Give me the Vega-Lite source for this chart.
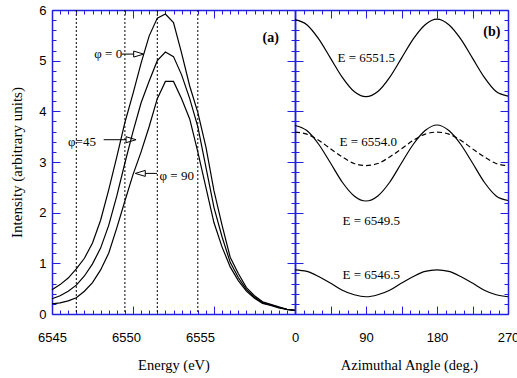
{
  "$schema": "https://vega.github.io/schema/vega-lite/v6.json",
  "background": "white",
  "padding": {"left": 9, "top": 4, "right": 2, "bottom": 2},
  "spacing": 0,
  "bounds": "flush",
  "config": {
    "view": {"stroke": null, "fill": null},
    "axis": {
      "grid": false, "labelFont": "Liberation Sans", "labelFontSize": 13, "labelColor": "#000",
      "titleFont": "Liberation Serif", "titleFontSize": 15, "titleFontWeight": "normal", "titleColor": "#000",
      "labelFlush": false, "labelOverlap": false, "zindex": 1,
      "domainColor": "#2020e0", "domainWidth": 1.5, "tickColor": "#2020e0", "tickWidth": 1
    }
  },
  "datasets": {
    "spectra": [
      {"energy": 6545, "phi": "0", "intensity": 0.48},
      {"energy": 6545.5, "phi": "0", "intensity": 0.58},
      {"energy": 6546, "phi": "0", "intensity": 0.71},
      {"energy": 6546.5, "phi": "0", "intensity": 0.89},
      {"energy": 6547, "phi": "0", "intensity": 1.1},
      {"energy": 6547.5, "phi": "0", "intensity": 1.4},
      {"energy": 6548, "phi": "0", "intensity": 1.85},
      {"energy": 6548.5, "phi": "0", "intensity": 2.45},
      {"energy": 6549, "phi": "0", "intensity": 3.1},
      {"energy": 6549.5, "phi": "0", "intensity": 3.78},
      {"energy": 6550, "phi": "0", "intensity": 4.35},
      {"energy": 6550.5, "phi": "0", "intensity": 4.95},
      {"energy": 6551, "phi": "0", "intensity": 5.49},
      {"energy": 6551.5, "phi": "0", "intensity": 5.84},
      {"energy": 6552, "phi": "0", "intensity": 5.92},
      {"energy": 6552.5, "phi": "0", "intensity": 5.75},
      {"energy": 6553, "phi": "0", "intensity": 5.15},
      {"energy": 6553.5, "phi": "0", "intensity": 4.5},
      {"energy": 6554, "phi": "0", "intensity": 3.98},
      {"energy": 6554.5, "phi": "0", "intensity": 3.3},
      {"energy": 6555, "phi": "0", "intensity": 2.43},
      {"energy": 6555.5, "phi": "0", "intensity": 1.75},
      {"energy": 6556, "phi": "0", "intensity": 1.12},
      {"energy": 6556.5, "phi": "0", "intensity": 0.8},
      {"energy": 6557, "phi": "0", "intensity": 0.52},
      {"energy": 6557.5, "phi": "0", "intensity": 0.36},
      {"energy": 6558, "phi": "0", "intensity": 0.24},
      {"energy": 6558.5, "phi": "0", "intensity": 0.19},
      {"energy": 6559, "phi": "0", "intensity": 0.14},
      {"energy": 6559.5, "phi": "0", "intensity": 0.09},
      {"energy": 6560, "phi": "0", "intensity": 0.07},
      {"energy": 6545, "phi": "45", "intensity": 0.3},
      {"energy": 6545.5, "phi": "45", "intensity": 0.36},
      {"energy": 6546, "phi": "45", "intensity": 0.45},
      {"energy": 6546.5, "phi": "45", "intensity": 0.57},
      {"energy": 6547, "phi": "45", "intensity": 0.75},
      {"energy": 6547.5, "phi": "45", "intensity": 0.99},
      {"energy": 6548, "phi": "45", "intensity": 1.3},
      {"energy": 6548.5, "phi": "45", "intensity": 1.75},
      {"energy": 6549, "phi": "45", "intensity": 2.33},
      {"energy": 6549.5, "phi": "45", "intensity": 2.98},
      {"energy": 6550, "phi": "45", "intensity": 3.6},
      {"energy": 6550.5, "phi": "45", "intensity": 4.17},
      {"energy": 6551, "phi": "45", "intensity": 4.6},
      {"energy": 6551.5, "phi": "45", "intensity": 5.0},
      {"energy": 6552, "phi": "45", "intensity": 5.17},
      {"energy": 6552.5, "phi": "45", "intensity": 5.08},
      {"energy": 6553, "phi": "45", "intensity": 4.72},
      {"energy": 6553.5, "phi": "45", "intensity": 4.25},
      {"energy": 6554, "phi": "45", "intensity": 3.7},
      {"energy": 6554.5, "phi": "45", "intensity": 2.9},
      {"energy": 6555, "phi": "45", "intensity": 2.1},
      {"energy": 6555.5, "phi": "45", "intensity": 1.52},
      {"energy": 6556, "phi": "45", "intensity": 1.02},
      {"energy": 6556.5, "phi": "45", "intensity": 0.72},
      {"energy": 6557, "phi": "45", "intensity": 0.48},
      {"energy": 6557.5, "phi": "45", "intensity": 0.33},
      {"energy": 6558, "phi": "45", "intensity": 0.22},
      {"energy": 6558.5, "phi": "45", "intensity": 0.18},
      {"energy": 6559, "phi": "45", "intensity": 0.13},
      {"energy": 6559.5, "phi": "45", "intensity": 0.09},
      {"energy": 6560, "phi": "45", "intensity": 0.07},
      {"energy": 6545, "phi": "90", "intensity": 0.2},
      {"energy": 6545.5, "phi": "90", "intensity": 0.22},
      {"energy": 6546, "phi": "90", "intensity": 0.26},
      {"energy": 6546.5, "phi": "90", "intensity": 0.32},
      {"energy": 6547, "phi": "90", "intensity": 0.45},
      {"energy": 6547.5, "phi": "90", "intensity": 0.62},
      {"energy": 6548, "phi": "90", "intensity": 0.87},
      {"energy": 6548.5, "phi": "90", "intensity": 1.2},
      {"energy": 6549, "phi": "90", "intensity": 1.7},
      {"energy": 6549.5, "phi": "90", "intensity": 2.23},
      {"energy": 6550, "phi": "90", "intensity": 2.75},
      {"energy": 6550.5, "phi": "90", "intensity": 3.2},
      {"energy": 6551, "phi": "90", "intensity": 3.7},
      {"energy": 6551.5, "phi": "90", "intensity": 4.25},
      {"energy": 6552, "phi": "90", "intensity": 4.59},
      {"energy": 6552.5, "phi": "90", "intensity": 4.59},
      {"energy": 6553, "phi": "90", "intensity": 4.25},
      {"energy": 6553.5, "phi": "90", "intensity": 3.85},
      {"energy": 6554, "phi": "90", "intensity": 3.2},
      {"energy": 6554.5, "phi": "90", "intensity": 2.5},
      {"energy": 6555, "phi": "90", "intensity": 1.8},
      {"energy": 6555.5, "phi": "90", "intensity": 1.32},
      {"energy": 6556, "phi": "90", "intensity": 0.93},
      {"energy": 6556.5, "phi": "90", "intensity": 0.66},
      {"energy": 6557, "phi": "90", "intensity": 0.45},
      {"energy": 6557.5, "phi": "90", "intensity": 0.31},
      {"energy": 6558, "phi": "90", "intensity": 0.21},
      {"energy": 6558.5, "phi": "90", "intensity": 0.17},
      {"energy": 6559, "phi": "90", "intensity": 0.12},
      {"energy": 6559.5, "phi": "90", "intensity": 0.09},
      {"energy": 6560, "phi": "90", "intensity": 0.07}
    ],
    "markers": [
      {"energy": 6546.5}, {"energy": 6549.5}, {"energy": 6551.5}, {"energy": 6554.0}
    ],
    "leftLabels": [
      {"label": "φ = 0", "energy": 6548.47, "intensity": 5.13},
      {"label": "φ=45", "energy": 6546.85, "intensity": 3.4},
      {"label": "φ = 90", "energy": 6552.7, "intensity": 2.73},
      {"label": "(a)", "energy": 6558.5, "intensity": 5.44}
    ],
    "arrows": [
      {"phi": "0", "from": 6549.32, "to": 6550.04, "head": 6550.35, "intensity": 5.13, "dir": "right"},
      {"phi": "45", "from": 6548.19, "to": 6549.57, "head": 6549.88, "intensity": 3.44, "dir": "right"},
      {"phi": "90", "from": 6551.48, "to": 6550.76, "head": 6550.45, "intensity": 2.775, "dir": "left"}
    ],
    "azimuthal": [
      {"energy": "6551.5", "angle": 0, "intensity": 5.81},
      {"energy": "6551.5", "angle": 15, "intensity": 5.71},
      {"energy": "6551.5", "angle": 30, "intensity": 5.43},
      {"energy": "6551.5", "angle": 45, "intensity": 5.05},
      {"energy": "6551.5", "angle": 60, "intensity": 4.67},
      {"energy": "6551.5", "angle": 75, "intensity": 4.39},
      {"energy": "6551.5", "angle": 90, "intensity": 4.29},
      {"energy": "6551.5", "angle": 105, "intensity": 4.39},
      {"energy": "6551.5", "angle": 120, "intensity": 4.67},
      {"energy": "6551.5", "angle": 135, "intensity": 5.05},
      {"energy": "6551.5", "angle": 150, "intensity": 5.43},
      {"energy": "6551.5", "angle": 165, "intensity": 5.71},
      {"energy": "6551.5", "angle": 180, "intensity": 5.82},
      {"energy": "6551.5", "angle": 195, "intensity": 5.71},
      {"energy": "6551.5", "angle": 210, "intensity": 5.43},
      {"energy": "6551.5", "angle": 225, "intensity": 5.05},
      {"energy": "6551.5", "angle": 240, "intensity": 4.67},
      {"energy": "6551.5", "angle": 255, "intensity": 4.39},
      {"energy": "6551.5", "angle": 270, "intensity": 4.3},
      {"energy": "6554.0", "angle": 0, "intensity": 3.59},
      {"energy": "6554.0", "angle": 15, "intensity": 3.55},
      {"energy": "6554.0", "angle": 30, "intensity": 3.43},
      {"energy": "6554.0", "angle": 45, "intensity": 3.26},
      {"energy": "6554.0", "angle": 60, "intensity": 3.1},
      {"energy": "6554.0", "angle": 75, "intensity": 2.97},
      {"energy": "6554.0", "angle": 90, "intensity": 2.93},
      {"energy": "6554.0", "angle": 105, "intensity": 2.97},
      {"energy": "6554.0", "angle": 120, "intensity": 3.1},
      {"energy": "6554.0", "angle": 135, "intensity": 3.26},
      {"energy": "6554.0", "angle": 150, "intensity": 3.43},
      {"energy": "6554.0", "angle": 165, "intensity": 3.55},
      {"energy": "6554.0", "angle": 180, "intensity": 3.59},
      {"energy": "6554.0", "angle": 195, "intensity": 3.55},
      {"energy": "6554.0", "angle": 210, "intensity": 3.43},
      {"energy": "6554.0", "angle": 225, "intensity": 3.26},
      {"energy": "6554.0", "angle": 240, "intensity": 3.1},
      {"energy": "6554.0", "angle": 255, "intensity": 2.97},
      {"energy": "6554.0", "angle": 270, "intensity": 2.93},
      {"energy": "6549.5", "angle": 0, "intensity": 3.72},
      {"energy": "6549.5", "angle": 15, "intensity": 3.62},
      {"energy": "6549.5", "angle": 30, "intensity": 3.35},
      {"energy": "6549.5", "angle": 45, "intensity": 2.98},
      {"energy": "6549.5", "angle": 60, "intensity": 2.6},
      {"energy": "6549.5", "angle": 75, "intensity": 2.33},
      {"energy": "6549.5", "angle": 90, "intensity": 2.23},
      {"energy": "6549.5", "angle": 105, "intensity": 2.33},
      {"energy": "6549.5", "angle": 120, "intensity": 2.6},
      {"energy": "6549.5", "angle": 135, "intensity": 2.98},
      {"energy": "6549.5", "angle": 150, "intensity": 3.35},
      {"energy": "6549.5", "angle": 165, "intensity": 3.62},
      {"energy": "6549.5", "angle": 180, "intensity": 3.73},
      {"energy": "6549.5", "angle": 195, "intensity": 3.62},
      {"energy": "6549.5", "angle": 210, "intensity": 3.35},
      {"energy": "6549.5", "angle": 225, "intensity": 2.98},
      {"energy": "6549.5", "angle": 240, "intensity": 2.6},
      {"energy": "6549.5", "angle": 255, "intensity": 2.33},
      {"energy": "6549.5", "angle": 270, "intensity": 2.24},
      {"energy": "6546.5", "angle": 0, "intensity": 0.87},
      {"energy": "6546.5", "angle": 15, "intensity": 0.84},
      {"energy": "6546.5", "angle": 30, "intensity": 0.74},
      {"energy": "6546.5", "angle": 45, "intensity": 0.61},
      {"energy": "6546.5", "angle": 60, "intensity": 0.47},
      {"energy": "6546.5", "angle": 75, "intensity": 0.38},
      {"energy": "6546.5", "angle": 90, "intensity": 0.34},
      {"energy": "6546.5", "angle": 105, "intensity": 0.38},
      {"energy": "6546.5", "angle": 120, "intensity": 0.47},
      {"energy": "6546.5", "angle": 135, "intensity": 0.61},
      {"energy": "6546.5", "angle": 150, "intensity": 0.74},
      {"energy": "6546.5", "angle": 165, "intensity": 0.84},
      {"energy": "6546.5", "angle": 180, "intensity": 0.87},
      {"energy": "6546.5", "angle": 195, "intensity": 0.84},
      {"energy": "6546.5", "angle": 210, "intensity": 0.74},
      {"energy": "6546.5", "angle": 225, "intensity": 0.61},
      {"energy": "6546.5", "angle": 240, "intensity": 0.47},
      {"energy": "6546.5", "angle": 255, "intensity": 0.38},
      {"energy": "6546.5", "angle": 270, "intensity": 0.34}
    ],
    "rightLabels": [
      {"label": "E = 6551.5", "angle": 90.4, "intensity": 5.05},
      {"label": "E = 6554.0", "angle": 93, "intensity": 3.39},
      {"label": "E = 6549.5", "angle": 96.7, "intensity": 1.83},
      {"label": "E = 6546.5", "angle": 96.7, "intensity": 0.77},
      {"label": "(b)", "angle": 249.6, "intensity": 5.56}
    ]
  },
  "hconcat": [
    {
      "width": 243,
      "height": 304,
      "layer": [
        {
          "data": {"name": "spectra"},
          "mark": {"type": "line", "color": "#000", "strokeWidth": 1.2},
          "encoding": {
            "x": {
              "field": "energy", "type": "quantitative",
              "scale": {"domain": [6545, 6560], "nice": false, "zero": false},
              "axis": {
                "orient": "bottom", "title": "Energy (eV)", "titleFontSize": 14.5, "titleFontWeight": "normal", "titlePadding": 14,
                "tickSize": -8,
                "values": [6545, 6550, 6555, 6560],
                "labelPadding": 25,
                "labelExpr": "datum.value == 6545 ? '6545' : ''"
              }
            },
            "y": {
              "field": "intensity", "type": "quantitative",
              "scale": {"domain": [0, 6], "nice": false, "zero": false},
              "axis": {
                "orient": "left", "title": "Intensity (arbitrary units)", "titleFontWeight": "normal", "titlePadding": 14,
                "tickSize": -8,
                "values": [0, 1, 2, 3, 4, 5, 6],
                "labelPadding": 14,
                "format": "d"
              }
            },
            "detail": {"field": "phi"}
          }
        },
        {
          "data": {"name": "leftLabels"},
          "transform": [{"filter": "datum.label != '(a)'"}],
          "mark": {"type": "text", "align": "center", "baseline": "middle", "font": "Liberation Serif", "fontSize": 13, "color": "#000"},
          "encoding": {
            "x": {
              "field": "energy", "type": "quantitative",
              "scale": {"domain": [6545, 6560], "nice": false, "zero": false},
              "axis": {
                "orient": "bottom", "title": null, "labels": false, "domain": false, "tickSize": -4,
                "values": [6545, 6545.5, 6546, 6546.5, 6547, 6547.5, 6548, 6548.5, 6549, 6549.5, 6550, 6550.5, 6551, 6551.5, 6552, 6552.5, 6553, 6553.5, 6554, 6554.5, 6555, 6555.5, 6556, 6556.5, 6557, 6557.5, 6558, 6558.5, 6559, 6559.5, 6560]
              }
            },
            "y": {
              "field": "intensity", "type": "quantitative",
              "scale": {"domain": [0, 6], "nice": false, "zero": false},
              "axis": {
                "orient": "left", "title": null, "labels": false, "domain": false, "tickSize": -4,
                "values": [0, 0.2, 0.4, 0.6, 0.8, 1, 1.2, 1.4, 1.6, 1.8, 2, 2.2, 2.4, 2.6, 2.8, 3, 3.2, 3.4, 3.6, 3.8, 4, 4.2, 4.4, 4.6, 4.8, 5, 5.2, 5.4, 5.6, 5.8, 6]
              }
            },
            "text": {"field": "label"}
          }
        },
        {
          "data": {"name": "arrows"},
          "mark": {"type": "point", "filled": false, "stroke": "#000", "strokeWidth": 1, "size": 100, "opacity": 1},
          "encoding": {
            "x": {
              "field": "head", "type": "quantitative",
              "scale": {"domain": [6545, 6560], "nice": false, "zero": false},
              "axis": {
                "orient": "top", "title": null, "labels": false, "tickSize": -8,
                "values": [6545, 6550, 6555, 6560]
              }
            },
            "y": {
              "field": "intensity", "type": "quantitative",
              "scale": {"domain": [0, 6], "nice": false, "zero": false},
              "axis": {
                "orient": "right", "title": null, "labels": false, "tickSize": -8,
                "values": [0, 1, 2, 3, 4, 5, 6]
              }
            },
            "shape": {"condition": {"test": "datum.dir == 'left'", "value": "M1,-0.6L-1,0L1,0.6Z"}, "value": "M-1,-0.6L1,0L-1,0.6Z"}
          }
        },
        {
          "data": {"name": "arrows"},
          "mark": {"type": "rule", "color": "#000", "strokeWidth": 1},
          "encoding": {
            "x": {
              "field": "from", "type": "quantitative",
              "scale": {"domain": [6545, 6560], "nice": false, "zero": false},
              "axis": {
                "orient": "top", "title": null, "labels": false, "domain": false, "tickSize": -4,
                "values": [6545, 6545.5, 6546, 6546.5, 6547, 6547.5, 6548, 6548.5, 6549, 6549.5, 6550, 6550.5, 6551, 6551.5, 6552, 6552.5, 6553, 6553.5, 6554, 6554.5, 6555, 6555.5, 6556, 6556.5, 6557, 6557.5, 6558, 6558.5, 6559, 6559.5, 6560]
              }
            },
            "x2": {"field": "to"},
            "y": {
              "field": "intensity", "type": "quantitative",
              "scale": {"domain": [0, 6], "nice": false, "zero": false},
              "axis": {
                "orient": "right", "title": null, "labels": false, "domain": false, "tickSize": -4,
                "values": [0, 0.2, 0.4, 0.6, 0.8, 1, 1.2, 1.4, 1.6, 1.8, 2, 2.2, 2.4, 2.6, 2.8, 3, 3.2, 3.4, 3.6, 3.8, 4, 4.2, 4.4, 4.6, 4.8, 5, 5.2, 5.4, 5.6, 5.8, 6]
              }
            }
          }
        },
        {
          "data": {"name": "markers"},
          "mark": {"type": "rule", "color": "#000", "strokeWidth": 1, "strokeDash": [2, 2]},
          "encoding": {
            "x": {
              "field": "energy", "type": "quantitative",
              "scale": {"domain": [6545, 6560], "nice": false, "zero": false},
              "axis": {
                "orient": "bottom", "title": null, "domain": false, "ticks": false,
                "values": [6550], "format": "d", "labelPadding": 17, "labelOffset": -7
              }
            }
          }
        },
        {
          "data": {"name": "leftLabels"},
          "transform": [{"filter": "datum.label == '(a)'"}],
          "mark": {"type": "text", "align": "center", "baseline": "middle", "font": "Liberation Serif", "fontSize": 14, "fontWeight": "bold", "color": "#000"},
          "encoding": {
            "x": {
              "field": "energy", "type": "quantitative",
              "scale": {"domain": [6545, 6560], "nice": false, "zero": false},
              "axis": {
                "orient": "bottom", "title": null, "domain": false, "ticks": false,
                "values": [6555], "format": "d", "labelPadding": 17, "labelOffset": -14
              }
            },
            "y": {"field": "intensity", "type": "quantitative", "scale": {"domain": [0, 6], "nice": false, "zero": false}, "axis": null},
            "text": {"field": "label"}
          }
        }
      ],
      "resolve": {"scale": {"x": "independent", "y": "independent"}}
    },
    {
      "width": 213,
      "height": 304,
      "layer": [
        {
          "data": {"name": "azimuthal"},
          "transform": [{"filter": "datum.energy != '6554.0'"}],
          "mark": {"type": "line", "interpolate": "monotone", "color": "#000", "strokeWidth": 1.2},
          "encoding": {
            "x": {
              "field": "angle", "type": "quantitative",
              "scale": {"domain": [0, 270], "nice": false, "zero": false},
              "axis": {
                "orient": "bottom", "title": "Azimuthal Angle (deg.)", "titleFontSize": 14.5, "titleFontWeight": "normal", "titlePadding": 14, "titleX": 114,
                "tickSize": -8,
                "values": [0, 45, 90, 135, 180, 225, 270],
                "labelPadding": 25,
                "labelExpr": "datum.value % 90 == 0 ? '' + datum.value : ''"
              }
            },
            "y": {
              "field": "intensity", "type": "quantitative",
              "scale": {"domain": [0, 6], "nice": false, "zero": false},
              "axis": {
                "orient": "left", "title": null, "labels": false, "tickSize": -8,
                "values": [0, 1, 2, 3, 4, 5, 6]
              }
            },
            "detail": {"field": "energy"}
          }
        },
        {
          "data": {"name": "azimuthal"},
          "transform": [{"filter": "datum.energy == '6554.0'"}],
          "mark": {"type": "line", "interpolate": "monotone", "color": "#000", "strokeWidth": 1.2, "strokeDash": [5, 3]},
          "encoding": {
            "x": {
              "field": "angle", "type": "quantitative",
              "scale": {"domain": [0, 270], "nice": false, "zero": false},
              "axis": {
                "orient": "bottom", "title": null, "labels": false, "domain": false, "tickSize": -4,
                "values": [0, 11.25, 22.5, 33.75, 45, 56.25, 67.5, 78.75, 90, 101.25, 112.5, 123.75, 135, 146.25, 157.5, 168.75, 180, 191.25, 202.5, 213.75, 225, 236.25, 247.5, 258.75, 270]
              }
            },
            "y": {
              "field": "intensity", "type": "quantitative",
              "scale": {"domain": [0, 6], "nice": false, "zero": false},
              "axis": {
                "orient": "left", "title": null, "labels": false, "domain": false, "tickSize": -4,
                "values": [0, 0.2, 0.4, 0.6, 0.8, 1, 1.2, 1.4, 1.6, 1.8, 2, 2.2, 2.4, 2.6, 2.8, 3, 3.2, 3.4, 3.6, 3.8, 4, 4.2, 4.4, 4.6, 4.8, 5, 5.2, 5.4, 5.6, 5.8, 6]
              }
            }
          }
        },
        {
          "data": {"name": "rightLabels"},
          "transform": [{"filter": "datum.label != '(b)'"}],
          "mark": {"type": "text", "align": "center", "baseline": "middle", "font": "Liberation Serif", "fontSize": 13, "color": "#000"},
          "encoding": {
            "x": {
              "field": "angle", "type": "quantitative",
              "scale": {"domain": [0, 270], "nice": false, "zero": false},
              "axis": {
                "orient": "top", "title": null, "labels": false, "tickSize": -8,
                "values": [0, 45, 90, 135, 180, 225, 270]
              }
            },
            "y": {
              "field": "intensity", "type": "quantitative",
              "scale": {"domain": [0, 6], "nice": false, "zero": false},
              "axis": {
                "orient": "right", "title": null, "labels": false, "tickSize": -8,
                "values": [0, 1, 2, 3, 4, 5, 6]
              }
            },
            "text": {"field": "label"}
          }
        },
        {
          "data": {"name": "rightLabels"},
          "transform": [{"filter": "datum.label == '(b)'"}],
          "mark": {"type": "text", "align": "center", "baseline": "middle", "font": "Liberation Serif", "fontSize": 14, "fontWeight": "bold", "color": "#000"},
          "encoding": {
            "x": {
              "field": "angle", "type": "quantitative",
              "scale": {"domain": [0, 270], "nice": false, "zero": false},
              "axis": {
                "orient": "top", "title": null, "labels": false, "domain": false, "tickSize": -4,
                "values": [0, 11.25, 22.5, 33.75, 45, 56.25, 67.5, 78.75, 90, 101.25, 112.5, 123.75, 135, 146.25, 157.5, 168.75, 180, 191.25, 202.5, 213.75, 225, 236.25, 247.5, 258.75, 270]
              }
            },
            "y": {
              "field": "intensity", "type": "quantitative",
              "scale": {"domain": [0, 6], "nice": false, "zero": false},
              "axis": {
                "orient": "right", "title": null, "labels": false, "domain": false, "tickSize": -4,
                "values": [0, 0.2, 0.4, 0.6, 0.8, 1, 1.2, 1.4, 1.6, 1.8, 2, 2.2, 2.4, 2.6, 2.8, 3, 3.2, 3.4, 3.6, 3.8, 4, 4.2, 4.4, 4.6, 4.8, 5, 5.2, 5.4, 5.6, 5.8, 6]
              }
            },
            "text": {"field": "label"}
          }
        }
      ],
      "resolve": {"scale": {"x": "independent", "y": "independent"}}
    }
  ]
}
